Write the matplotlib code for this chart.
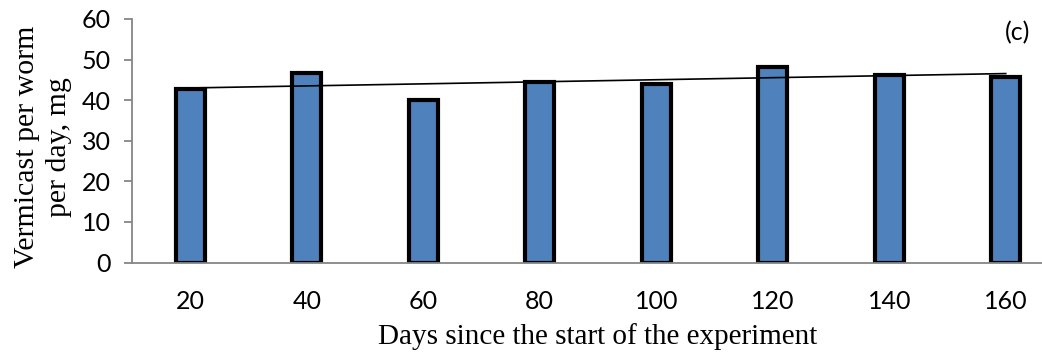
import numpy as np
import matplotlib
matplotlib.use("Agg")
import matplotlib.pyplot as plt

days = ["20", "40", "60", "80", "100", "120", "140", "160"]
vermicast = [42.8, 46.8, 40.0, 44.45, 43.9, 48.2, 46.3, 45.8]
yticks = [0, 10, 20, 30, 40, 50, 60]

W, H = 1042, 357
fig = plt.figure(figsize=(W / 100, H / 100), dpi=100)
left, right = 132 / W, 1064 / W
top, bottom = 1 - 19 / H, 1 - 262.5 / H
ax = fig.add_axes([left, bottom, right - left, top - bottom])

x = np.arange(len(days))
ax.bar(x, vermicast, width=0.245, color="#4F81BD", edgecolor="black",
       linewidth=3.0, zorder=2)

coef = np.polyfit(x + 1, vermicast, 1)
trend = np.polyval(coef, x + 1)
ax.plot([x[0], x[-1]], [trend[0], trend[-1]], color="black", lw=1.2, zorder=3)

ax.set_xlim(-0.5, len(days) - 0.5)
ax.set_ylim(0, 60)
ax.set_yticks(yticks)
ax.set_xticks(x)
ax.set_xticklabels(days)

for lab in ax.get_xticklabels() + ax.get_yticklabels():
    lab.set_fontfamily("Lato")
    lab.set_fontsize(18)

grey = "#868686"
for s in ["top", "right"]:
    ax.spines[s].set_visible(False)
for s in ["left", "bottom"]:
    ax.spines[s].set_color(grey)
    ax.spines[s].set_linewidth(1.3)
ax.tick_params(axis="y", direction="out", length=6, width=1.3, color=grey, pad=9)
ax.tick_params(axis="x", length=0, pad=20)

ax.text(1030 / W, 1 - 33 / H, "(c)", transform=fig.transFigure, ha="right",
        va="center", fontfamily="Lato", fontsize=18)

fig.text(43 / W, 1 - 147 / H, "Vermicast per worm\nper day, mg", rotation=90,
         ha="center", va="center", multialignment="center",
         fontfamily="Liberation Serif", fontsize=21.5, linespacing=1.3)
fig.text(598 / W, 1 - 337 / H, "Days since the start of the experiment",
         ha="center", va="center", fontfamily="Liberation Serif", fontsize=21)

fig.savefig("out.png", dpi=100)
